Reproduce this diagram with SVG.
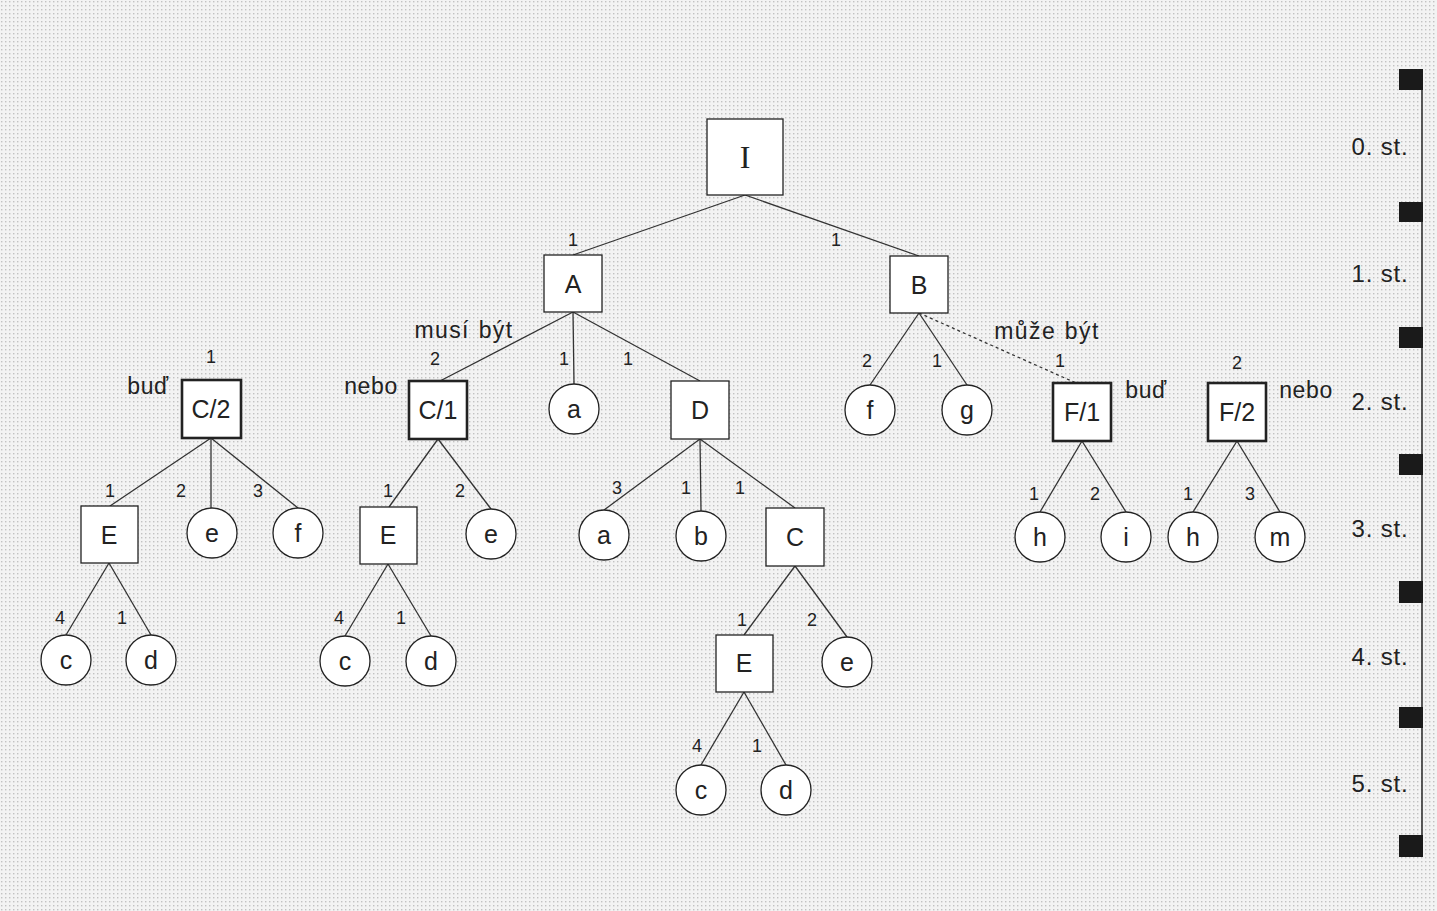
<svg xmlns="http://www.w3.org/2000/svg" width="1437" height="911" viewBox="0 0 1437 911">
<style>
.box{fill:#fff;stroke:#222;stroke-width:1.3}
.bold{stroke-width:2.6}
.circ{fill:#fff;stroke:#222;stroke-width:1.3}
.lbl{font-family:"Liberation Sans",Arial,sans-serif;font-size:25px;fill:#222;text-anchor:middle;dominant-baseline:central}
.num{font-family:"Liberation Sans",Arial,sans-serif;font-size:18px;fill:#222;text-anchor:middle;dominant-baseline:central}
.txt{font-family:"Liberation Sans",Arial,sans-serif;font-size:23px;fill:#222;text-anchor:middle;dominant-baseline:central;letter-spacing:0.6px}
.wide{letter-spacing:1.4px;word-spacing:1px}
.lvl{font-family:"Liberation Sans",Arial,sans-serif;font-size:24px;fill:#222;text-anchor:middle;dominant-baseline:central;letter-spacing:0.8px}
.edge{stroke:#333;stroke-width:1.3;fill:none}
.dash{stroke-dasharray:3,3}
.tick{fill:#1a1a1a}
</style>
<defs>
<pattern id="dots" width="4" height="4" patternUnits="userSpaceOnUse">
<rect width="4" height="4" fill="#f3f3f3"/>
<rect x="1" y="1" width="1.4" height="1.4" fill="#c2c2c2"/>
</pattern>
</defs>
<rect width="1437" height="911" fill="url(#dots)"/>
<g id="connectors">
<line class="edge" x1="745" y1="195" x2="573" y2="255"/>
<line class="edge" x1="745" y1="195" x2="919" y2="256"/>
<line class="edge" x1="573" y1="312" x2="440" y2="381"/>
<line class="edge" x1="573" y1="312" x2="574" y2="384"/>
<line class="edge" x1="573" y1="312" x2="700" y2="381"/>
<line class="edge" x1="919" y1="313" x2="870" y2="385"/>
<line class="edge" x1="919" y1="313" x2="967" y2="385"/>
<line class="edge dash" x1="919" y1="313" x2="1076" y2="383"/>
<line class="edge" x1="211" y1="438" x2="110" y2="506"/>
<line class="edge" x1="211" y1="438" x2="211" y2="508"/>
<line class="edge" x1="211" y1="438" x2="298" y2="508"/>
<line class="edge" x1="438" y1="439" x2="389" y2="507"/>
<line class="edge" x1="438" y1="439" x2="491" y2="509"/>
<line class="edge" x1="700" y1="439" x2="604" y2="510"/>
<line class="edge" x1="700" y1="439" x2="701" y2="511"/>
<line class="edge" x1="700" y1="439" x2="795" y2="508"/>
<line class="edge" x1="1082" y1="441" x2="1040" y2="512"/>
<line class="edge" x1="1082" y1="441" x2="1126" y2="512"/>
<line class="edge" x1="1237" y1="441" x2="1193" y2="512"/>
<line class="edge" x1="1237" y1="441" x2="1280" y2="512"/>
<line class="edge" x1="109" y1="563" x2="66" y2="635"/>
<line class="edge" x1="109" y1="563" x2="151" y2="635"/>
<line class="edge" x1="388" y1="564" x2="345" y2="636"/>
<line class="edge" x1="388" y1="564" x2="431" y2="636"/>
<line class="edge" x1="795" y1="566" x2="744" y2="635"/>
<line class="edge" x1="795" y1="566" x2="847" y2="637"/>
<line class="edge" x1="744" y1="692" x2="701" y2="765"/>
<line class="edge" x1="744" y1="692" x2="786" y2="765"/>
</g>
<g id="edge-labels">
<text class="num" x="573" y="240">1</text>
<text class="num" x="836" y="240">1</text>
<text class="txt wide" x="464" y="330">musí být</text>
<text class="num" x="435" y="359">2</text>
<text class="num" x="564" y="359">1</text>
<text class="num" x="628" y="359">1</text>
<text class="num" x="867" y="361">2</text>
<text class="num" x="937" y="361">1</text>
<text class="txt wide" x="1047" y="331">může být</text>
<text class="num" x="1060" y="361">1</text>
<text class="num" x="1237" y="363">2</text>
<text class="num" x="211" y="357">1</text>
<text class="txt" x="148" y="386">buď</text>
<text class="txt" x="371" y="386">nebo</text>
<text class="txt" x="1146" y="390">buď</text>
<text class="txt" x="1306" y="390">nebo</text>
<text class="num" x="110" y="491">1</text>
<text class="num" x="181" y="491">2</text>
<text class="num" x="258" y="491">3</text>
<text class="num" x="388" y="491">1</text>
<text class="num" x="460" y="491">2</text>
<text class="num" x="617" y="488">3</text>
<text class="num" x="686" y="488">1</text>
<text class="num" x="740" y="488">1</text>
<text class="num" x="1034" y="494">1</text>
<text class="num" x="1095" y="494">2</text>
<text class="num" x="1188" y="494">1</text>
<text class="num" x="1250" y="494">3</text>
<text class="num" x="60" y="618">4</text>
<text class="num" x="122" y="618">1</text>
<text class="num" x="339" y="618">4</text>
<text class="num" x="401" y="618">1</text>
<text class="num" x="742" y="620">1</text>
<text class="num" x="812" y="620">2</text>
<text class="num" x="697" y="746">4</text>
<text class="num" x="757" y="746">1</text>
</g>
<g id="node-I"><rect class="box" x="707" y="119" width="76" height="76"/><text class="lbl" x="745" y="157" style="font-family:'Liberation Serif','Times New Roman',serif;font-size:32px">I</text></g>
<g id="node-A"><rect class="box" x="544" y="255" width="58" height="57"/><text class="lbl" x="573" y="284">A</text></g>
<g id="node-B"><rect class="box" x="890" y="256" width="58" height="57"/><text class="lbl" x="919" y="285">B</text></g>
<g id="node-C2"><rect class="box bold" x="182" y="380" width="59" height="58"/><text class="lbl" x="211" y="409">C/2</text></g>
<g id="node-C1"><rect class="box bold" x="409" y="381" width="58" height="58"/><text class="lbl" x="438" y="410">C/1</text></g>
<g id="node-a1"><circle class="circ" cx="574" cy="409" r="25"/><text class="lbl" x="574" y="409">a</text></g>
<g id="node-D"><rect class="box" x="671" y="381" width="58" height="58"/><text class="lbl" x="700" y="410">D</text></g>
<g id="node-f1"><circle class="circ" cx="870" cy="410" r="25"/><text class="lbl" x="870" y="410">f</text></g>
<g id="node-g"><circle class="circ" cx="967" cy="410" r="25"/><text class="lbl" x="967" y="410">g</text></g>
<g id="node-F1"><rect class="box bold" x="1053" y="383" width="58" height="58"/><text class="lbl" x="1082" y="412">F/1</text></g>
<g id="node-F2"><rect class="box bold" x="1208" y="383" width="58" height="58"/><text class="lbl" x="1237" y="412">F/2</text></g>
<g id="node-E1"><rect class="box" x="81" y="506" width="57" height="57"/><text class="lbl" x="109" y="535">E</text></g>
<g id="node-e1"><circle class="circ" cx="212" cy="533" r="25"/><text class="lbl" x="212" y="533">e</text></g>
<g id="node-f2"><circle class="circ" cx="298" cy="533" r="25"/><text class="lbl" x="298" y="533">f</text></g>
<g id="node-E2"><rect class="box" x="360" y="507" width="57" height="57"/><text class="lbl" x="388" y="535">E</text></g>
<g id="node-e2"><circle class="circ" cx="491" cy="534" r="25"/><text class="lbl" x="491" y="534">e</text></g>
<g id="node-a2"><circle class="circ" cx="604" cy="535" r="25"/><text class="lbl" x="604" y="535">a</text></g>
<g id="node-b"><circle class="circ" cx="701" cy="536" r="25"/><text class="lbl" x="701" y="536">b</text></g>
<g id="node-C"><rect class="box" x="766" y="508" width="58" height="58"/><text class="lbl" x="795" y="537">C</text></g>
<g id="node-h1"><circle class="circ" cx="1040" cy="537" r="25"/><text class="lbl" x="1040" y="537">h</text></g>
<g id="node-i"><circle class="circ" cx="1126" cy="537" r="25"/><text class="lbl" x="1126" y="537">i</text></g>
<g id="node-h2"><circle class="circ" cx="1193" cy="537" r="25"/><text class="lbl" x="1193" y="537">h</text></g>
<g id="node-m"><circle class="circ" cx="1280" cy="537" r="25"/><text class="lbl" x="1280" y="537">m</text></g>
<g id="node-c1"><circle class="circ" cx="66" cy="660" r="25"/><text class="lbl" x="66" y="660">c</text></g>
<g id="node-d1"><circle class="circ" cx="151" cy="660" r="25"/><text class="lbl" x="151" y="660">d</text></g>
<g id="node-c2"><circle class="circ" cx="345" cy="661" r="25"/><text class="lbl" x="345" y="661">c</text></g>
<g id="node-d2"><circle class="circ" cx="431" cy="661" r="25"/><text class="lbl" x="431" y="661">d</text></g>
<g id="node-E3"><rect class="box" x="716" y="635" width="57" height="57"/><text class="lbl" x="744" y="663">E</text></g>
<g id="node-e3"><circle class="circ" cx="847" cy="662" r="25"/><text class="lbl" x="847" y="662">e</text></g>
<g id="node-c3"><circle class="circ" cx="701" cy="790" r="25"/><text class="lbl" x="701" y="790">c</text></g>
<g id="node-d3"><circle class="circ" cx="786" cy="790" r="25"/><text class="lbl" x="786" y="790">d</text></g>
<g id="scale">
<line x1="1422" y1="80" x2="1422" y2="846" stroke="#333" stroke-width="1.6"/>
<rect class="tick" x="1399" y="69" width="24" height="21"/>
<rect class="tick" x="1399" y="202" width="24" height="20"/>
<rect class="tick" x="1399" y="327" width="24" height="21"/>
<rect class="tick" x="1399" y="454" width="24" height="21"/>
<rect class="tick" x="1399" y="581" width="24" height="22"/>
<rect class="tick" x="1399" y="707" width="24" height="21"/>
<rect class="tick" x="1399" y="835" width="24" height="22"/>
<text class="lvl" x="1380" y="146">0. st.</text>
<text class="lvl" x="1380" y="273">1. st.</text>
<text class="lvl" x="1380" y="401">2. st.</text>
<text class="lvl" x="1380" y="528">3. st.</text>
<text class="lvl" x="1380" y="656">4. st.</text>
<text class="lvl" x="1380" y="783">5. st.</text>
</g>
</svg>
